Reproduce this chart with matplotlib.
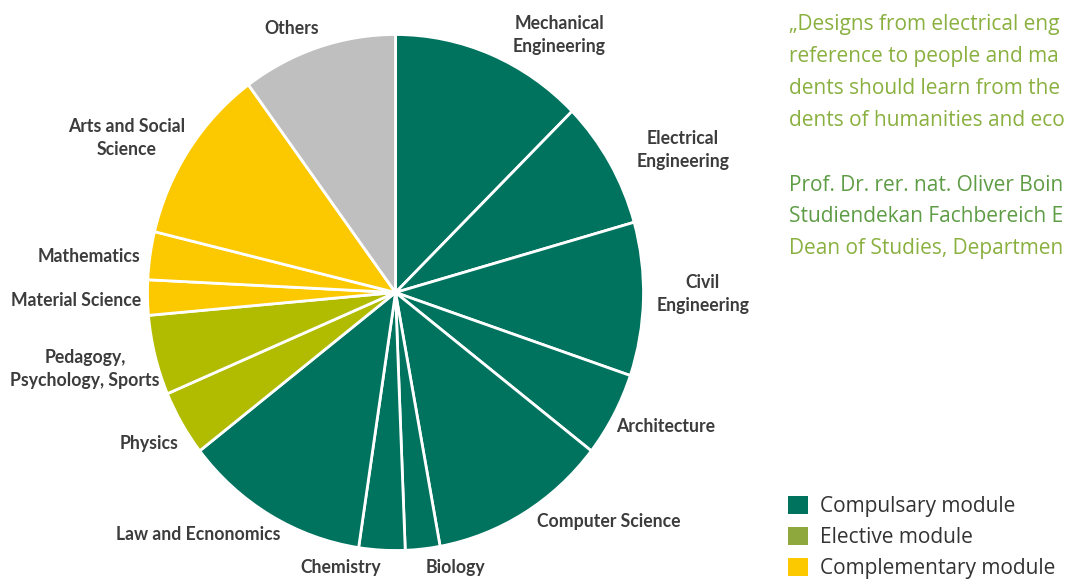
import matplotlib
matplotlib.use("Agg")
import matplotlib.pyplot as plt
from matplotlib.patches import Patch

# Share of each subject area (percent), clockwise from the top
subjects = [
    "Mechanical\nEngineering", "Electrical\nEngineering", "Civil\nEngineering",
    "Architecture", "Computer Science", "Biology", "Chemistry",
    "Law and Ecnonomics", "Physics", "Pedagogy,\nPsychology, Sports",
    "Material Science", "Mathematics", "Arts and Social\nScience", "Others",
]
shares = [12.6, 8.0, 9.6, 5.3, 11.6, 2.25, 3.0, 12.1, 4.1, 5.0, 2.2, 3.0, 11.1, 10.1]
module_type = ["compulsory"] * 8 + ["elective"] * 2 + ["complementary"] * 3 + ["other"]

legend_labels = ["Compulsary module", "Elective module", "Complementary module"]

quote_lines = [
    "\u201eDesigns from electrical eng",
    "reference to people and ma",
    "dents should learn from the",
    "dents of humanities and eco",
]
author_lines = [
    "Prof. Dr. rer. nat. Oliver Boin",
    "Studiendekan Fachbereich E",
    "Dean of Studies, Departmen",
]

# Styling
pie_colors = {"compulsory": "#00735F", "elective": "#B1BB00",
              "complementary": "#FCC900", "other": "#BFBFBF"}
legend_colors = ["#00735F", "#8FA83E", "#FCC900"]
label_color = "#3C3C3C"
quote_color = "#8AB040"
author_colors = ["#5E9C45", "#5E9C45", "#8AB040"]

W, H = 1067, 579
CX, CY = 395.5, 292.5      # pie centre (pixels from top-left)
RX, RY = 248.0, 258.0      # pie radii in pixels (slightly taller than wide)

fig = plt.figure(figsize=(W / 100, H / 100), dpi=100)
ax = fig.add_axes([0, 0, 1, 1])

ax.pie(
    shares,
    colors=[pie_colors[t] for t in module_type],
    startangle=90,
    counterclock=False,
    radius=1.0,
    wedgeprops=dict(edgecolor="white", linewidth=2.0),
)
ax.set_aspect("auto")
ax.set_xlim(-CX / RX, (W - CX) / RX)
ax.set_ylim(-(H - CY) / RY, CY / RY)
ax.axis("off")


def to_data(px, py):
    return (px - CX) / RX, (CY - py) / RY


# Label centres (pixels)
label_pos = [
    (559, 35), (683, 150), (703, 294), (666, 426), (609, 522), (455, 568),
    (341, 568), (198, 535), (149, 444), (85, 369), (76, 301), (89, 256),
    (127, 138), (292, 29),
]
for text, (px, py) in zip(subjects, label_pos):
    x, y = to_data(px, py)
    ax.text(x, y, text, ha="center", va="center", fontsize=12.7, fontweight="bold",
            family="Lato", color=label_color, linespacing=1.38)

# Quote block on the right
tx = 789
for i, line in enumerate(quote_lines):
    x, y = to_data(tx, 30 + 32 * i)
    ax.text(x, y, line, ha="left", va="baseline", fontsize=15.0,
            family="Open Sans", color=quote_color)
for i, line in enumerate(author_lines):
    x, y = to_data(tx, 191 + 31.5 * i)
    ax.text(x, y, line, ha="left", va="baseline", fontsize=15.0,
            family="Open Sans", color=author_colors[i])

# Legend
handles = [Patch(facecolor=c, edgecolor="none") for c in legend_colors]
fig.legend(
    handles, legend_labels,
    loc="upper left", bbox_to_anchor=(788 / W, 1 - 496 / H),
    frameon=False, handlelength=0.96, handleheight=0.96,
    handletextpad=0.6, labelspacing=0.46, borderpad=0, borderaxespad=0,
    prop=dict(family="Open Sans", size=15.0),
    labelcolor="#333333",
)

fig.savefig("out.png", dpi=100)
